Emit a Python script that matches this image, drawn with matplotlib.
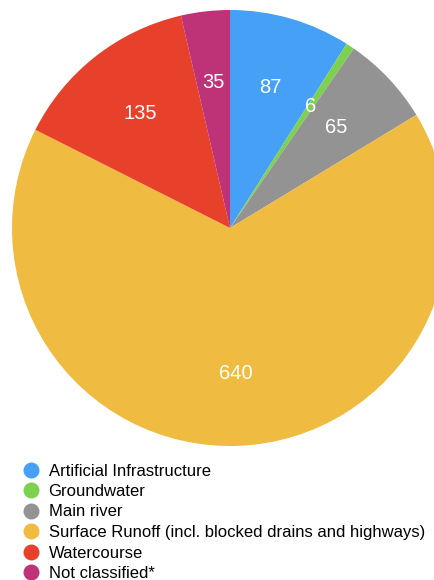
import matplotlib.pyplot as plt
from matplotlib.lines import Line2D

plt.rcParams['font.family'] = ['Liberation Sans', 'DejaVu Sans']

# Data
categories = ["Artificial Infrastructure", "Groundwater", "Main river",
              "Surface Runoff (incl. blocked drains and highways)",
              "Watercourse", "Not classified*"]
values = [87, 6, 65, 640, 135, 35]
colors = ["#45a0f6", "#7ed14f", "#939393", "#efbb40", "#e8412b", "#be3277"]

fig = plt.figure(figsize=(4.35, 5.8), dpi=100)
# big pie, runs past the right edge like the original
ax = fig.add_axes([12 / 435, (580 - 446) / 580, 436 / 435, 436 / 580])
wedges, texts = ax.pie(values, colors=colors, startangle=90, counterclock=False,
                       labels=[str(v) for v in values], labeldistance=0.67,
                       radius=1, wedgeprops=dict(linewidth=0))
for t in texts:
    t.set_color("white")
    t.set_fontsize(14.5)
    t.set_ha("center")
    t.set_va("center")
ax.set_xlim(-1, 1)
ax.set_ylim(-1, 1)
ax.axis("off")

handles = [Line2D([], [], marker="o", linestyle="none", markersize=11.5,
                  markerfacecolor=c, markeredgecolor="none") for c in colors]
fig.legend(handles, categories, loc="upper left", bbox_to_anchor=(22.7 / 435, 1 - 463.5 / 580),
           frameon=False, fontsize=12, handlelength=1.0, handletextpad=0.55,
           labelspacing=0.33, borderpad=0, borderaxespad=0)

fig.savefig("out.png", dpi=100)
